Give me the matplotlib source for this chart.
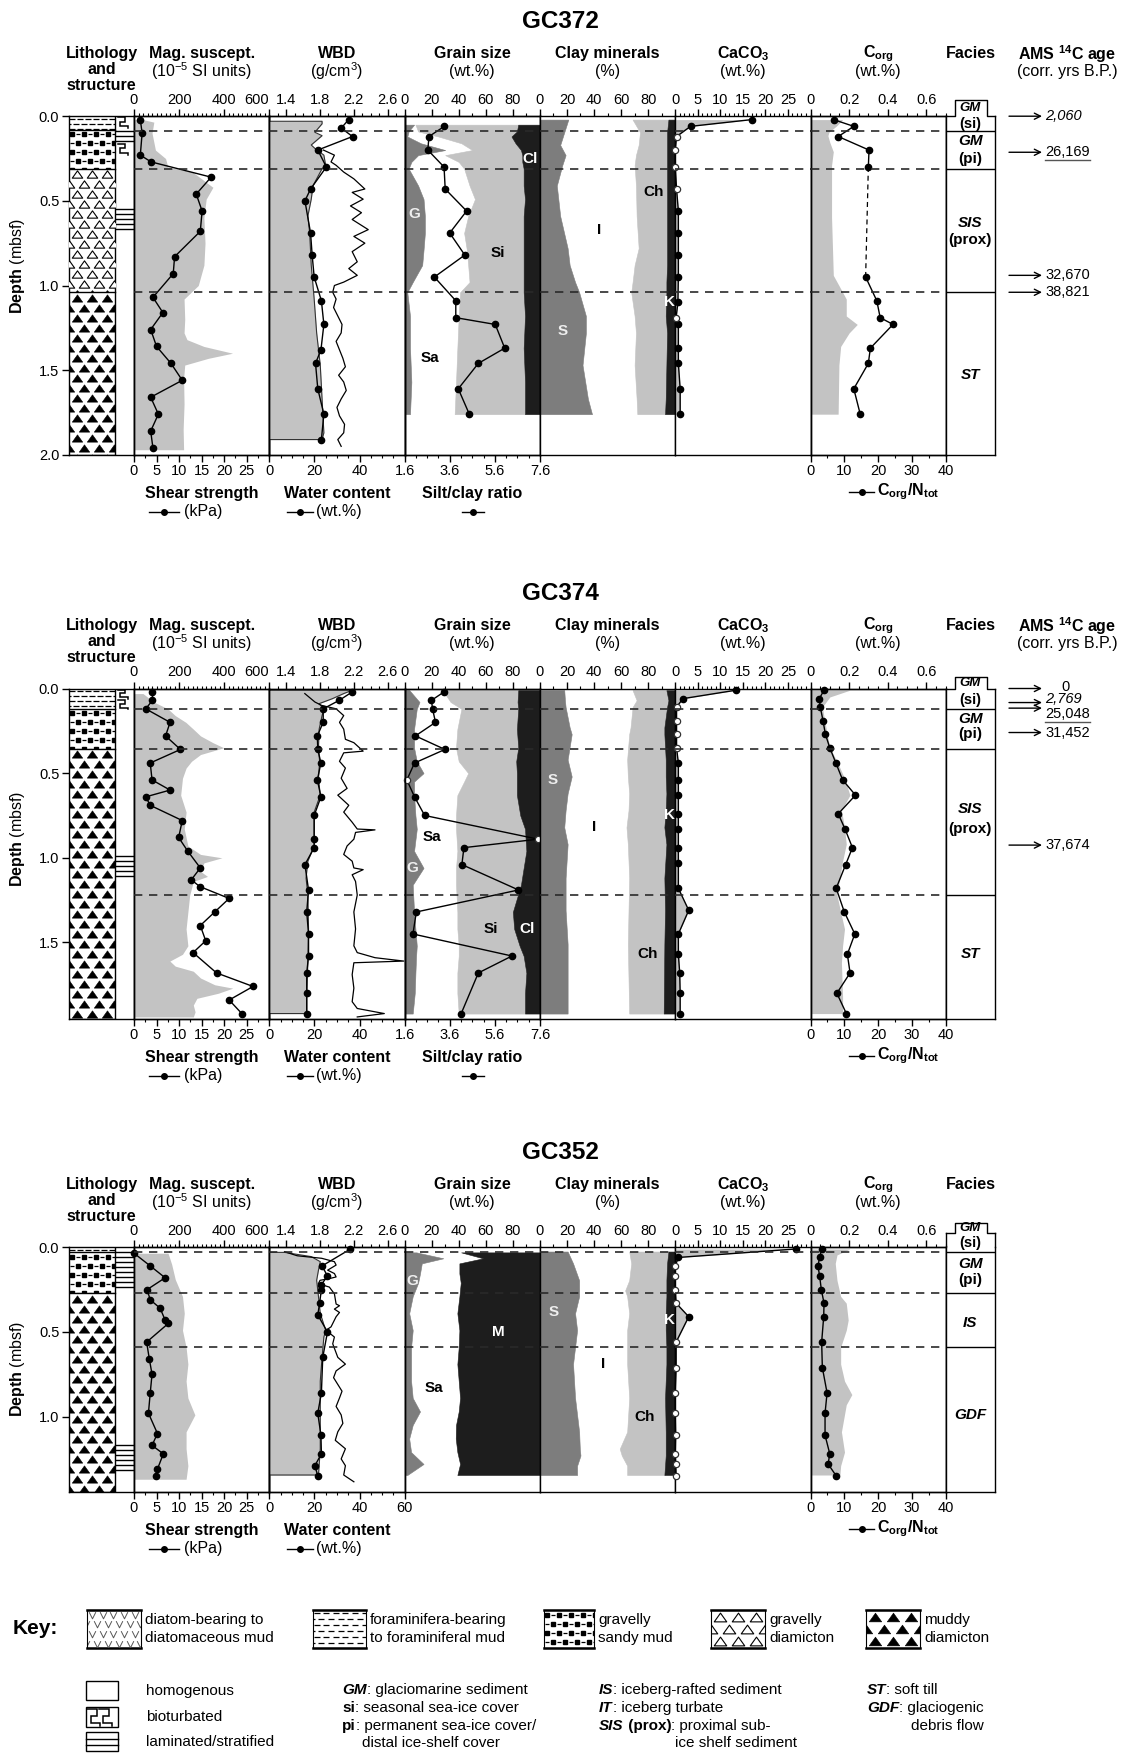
import numpy as np
import matplotlib
matplotlib.use("Agg")
import matplotlib.pyplot as plt
from matplotlib.patches import Rectangle
from matplotlib.path import Path

W, H = 1121, 1753
PXM = 169.3          # pixels per metre of core

plt.rcParams["font.family"] = "Liberation Sans"
plt.rcParams["mathtext.fontset"] = "custom"
plt.rcParams["mathtext.rm"] = "Liberation Sans"
plt.rcParams["mathtext.bf"] = "Liberation Sans:bold"
plt.rcParams["mathtext.it"] = "Liberation Sans:italic"
plt.rcParams["axes.linewidth"] = 1.0

LG, DG, BK = "#c3c3c3", "#7d7d7d", "#1d1d1d"

# ---------------------------------------------------------------- GC372
gc372_litho = [(0.00, 0.08, "foram"), (0.08, 0.31, "gsm"), (0.31, 1.04, "gdiam"), (1.04, 2.00, "mdiam")]
gc372_biot = [(0.00, 0.075), (0.155, 0.23)]
gc372_lamin = [(0.085, 0.155), (0.55, 0.67)]
gc372_ms_depth = [0.02, 0.035, 0.10, 0.20, 0.25, 0.30, 0.33, 0.42, 0.49, 0.60, 0.75, 0.88, 1.00,
                  1.08, 1.20, 1.28, 1.32, 1.36, 1.40, 1.43, 1.47, 1.55, 1.70, 1.85, 1.97]
gc372_ms = [40, 88, 80, 95, 140, 150, 260, 350, 320, 310, 315, 310, 285,
            222, 225, 222, 235, 310, 437, 330, 225, 220, 222, 218, 220]
gc372_ss_depth = [0.02, 0.10, 0.23, 0.27, 0.36, 0.46, 0.56, 0.68, 0.83, 0.93, 1.07, 1.16, 1.26,
                  1.36, 1.46, 1.56, 1.66, 1.76, 1.86, 1.96]
gc372_ss = [1.4, 1.8, 1.4, 3.8, 17.1, 13.8, 15.1, 14.7, 9.0, 8.7, 4.2, 6.4, 3.7,
            5.0, 8.2, 10.7, 3.7, 5.4, 3.7, 4.2]
gc372_wcf_depth = [0.03, 0.045, 0.095, 0.115, 0.17, 0.19, 0.23, 0.29, 0.31, 0.41, 0.49, 0.59, 0.69,
                   0.88, 1.08, 1.28, 1.47, 1.67, 1.87, 1.91]
gc372_wcf = [23.4, 23.4, 20.2, 23.4, 18.6, 20.2, 24.2, 25.0, 23.4, 19.4, 18.6, 17.1, 17.9,
             18.6, 19.9, 21.0, 22.6, 23.4, 24.2, 23.4]
gc372_wc_depth = [0.02, 0.07, 0.12, 0.20, 0.30, 0.43, 0.50, 0.69, 0.82, 0.95, 1.09, 1.23, 1.38,
                  1.46, 1.61, 1.76, 1.91]
gc372_wc = [35.2, 31.9, 36.9, 21.5, 25.3, 18.3, 15.8, 18.3, 19.0, 19.9, 23.1, 24.2, 22.9,
            20.5, 21.5, 24.2, 23.1]
gc372_wbd_depth = [0.20, 0.23, 0.27, 0.29, 0.33, 0.37, 0.43, 0.45, 0.49, 0.53, 0.57, 0.61, 0.67, 0.71,
                   0.75, 0.80, 0.86, 0.90, 0.94, 0.98, 1.00, 1.04, 1.08, 1.13, 1.18, 1.23, 1.28, 1.33,
                   1.38, 1.43, 1.48, 1.53, 1.57, 1.62, 1.67, 1.72, 1.77, 1.82, 1.87, 1.91, 1.95]
gc372_wbd = [1.84, 1.97, 1.93, 1.99, 2.08, 2.20, 2.33, 2.18, 2.31, 2.16, 2.29, 2.18, 2.37, 2.20,
             2.33, 2.18, 2.24, 2.14, 2.24, 2.08, 1.97, 1.95, 1.99, 1.96, 2.01, 2.06, 2.05, 1.99,
             2.03, 2.07, 2.10, 2.02, 2.08, 2.11, 2.05, 2.00, 2.03, 2.09, 2.08, 2.01, 2.05]
gc372_gs_depth = [0.05, 0.09, 0.12, 0.16, 0.20, 0.23, 0.27, 0.31, 0.41, 0.49, 0.59, 0.69, 0.79,
                  0.88, 0.98, 1.04, 1.18, 1.37, 1.57, 1.76]
gc372_gravel = [7, 3, 2, 12, 30, 10, 5, 3, 10, 14, 15, 15, 14, 13, 6, 2, 4, 4, 5, 4]
gc372_sand = [1, 7, 23, 30, 20, 20, 35, 41, 38, 38, 32, 29, 32, 34, 42, 39, 36, 35, 33, 33]
gc372_silt = [76, 73, 54, 40, 36, 57, 47, 44, 40, 37, 41, 44, 42, 41, 40, 47, 49, 49, 51, 52]
gc372_clay = [16, 17, 21, 18, 14, 13, 13, 12, 12, 11, 12, 12, 12, 12, 12, 12, 11, 12, 11, 11]
gc372_sc_depth = [0.06, 0.12, 0.20, 0.30, 0.43, 0.56, 0.69, 0.82, 0.95, 1.09, 1.19, 1.23, 1.37,
                  1.46, 1.61, 1.76]
gc372_sc = [3.36, 2.68, 2.63, 3.35, 3.40, 4.35, 3.60, 4.27, 2.92, 3.87, 3.87, 5.62, 6.04,
            4.87, 3.98, 4.47]
gc372_cm_depth = [0.02, 0.095, 0.17, 0.23, 0.29, 0.41, 0.59, 0.78, 0.88, 0.98, 1.04, 1.18, 1.28,
                  1.47, 1.67, 1.76]
gc372_smect = [21, 18, 15, 19, 16.5, 12.5, 15, 20.5, 22, 26, 29, 34, 34, 31.5, 35.5, 38.5]
gc372_illite = [47.5, 56, 58, 52, 53.5, 58.5, 56.5, 52.5, 48, 42.5, 38.5, 36, 37, 38.5, 36, 33.5]
gc372_chlor = [26.5, 20, 21, 23, 24, 23, 22.5, 21, 24, 25, 26, 23, 23, 23.5, 21.5, 20.5]
gc372_kaol = [5, 6, 6, 6, 6, 6, 6, 6, 6, 6.5, 6.5, 7, 6, 6.5, 7, 7.5]
gc372_ca_depth = [0.02, 0.06, 0.12, 0.20, 0.30, 0.43, 0.56, 0.69, 0.82, 0.95, 1.10, 1.19, 1.23,
                  1.37, 1.46, 1.61, 1.76]
gc372_caco3 = [17.0, 3.4, 0.3, 0.0, 0.0, 0.3, 0.7, 0.7, 0.7, 0.7, 0.6, 0.2, 0.7, 0.7, 0.7, 1.1, 1.1]
gc372_corg_depth = [0.02, 0.055, 0.095, 0.115, 0.155, 0.21, 0.29, 0.60, 0.94, 1.00, 1.04, 1.08,
                    1.18, 1.23, 1.28, 1.36, 1.47, 1.76]
gc372_corg = [0.166, 0.137, 0.095, 0.090, 0.100, 0.118, 0.109, 0.109, 0.118, 0.147, 0.166, 0.185,
              0.185, 0.242, 0.200, 0.156, 0.147, 0.143]
gc372_cn_depth = [0.02, 0.06, 0.12, 0.20, 0.30, 0.95, 1.09, 1.19, 1.23, 1.37, 1.46, 1.61, 1.76]
gc372_cn = [6.8, 12.8, 8.2, 17.3, 17.1, 16.3, 19.6, 20.6, 24.4, 17.7, 17.1, 12.8, 14.7]
gc372_facies_bounds = [0.085, 0.31, 1.04]
gc372_facies = [("GM", -0.047, True, 9.5), ("(si)", 0.045, False, 10.5), ("GM", 0.145, True, 11),
                ("(pi)", 0.25, False, 11), ("SIS", 0.63, True, 11), ("(prox)", 0.73, False, 11),
                ("ST", 1.53, True, 11)]
gc372_ages = [(0.0, 0.0, "2,060", "italic"), (0.213, 0.213, "26,169", "underline"),
              (0.94, 0.94, "32,670", ""), (1.04, 1.04, "38,821", "")]
gc372_gs_labels = [("G", 7, 0.58, "#eeeeee"), ("Si", 69, 0.81, "k"), ("Sa", 19, 1.43, "k"), ("Cl", 93, 0.25, "w")]
gc372_cm_labels = [("Ch", 84, 0.445, "k"), ("I", 44, 0.67, "k"), ("S", 16.5, 1.27, "#eeeeee"), ("K", 96, 1.10, "w")]

# ---------------------------------------------------------------- GC374
gc374_litho = [(0.00, 0.12, "foram"), (0.12, 0.355, "gsm"), (0.355, 1.95, "mdiam")]
gc374_biot = [(0.00, 0.125)]
gc374_lamin = [(0.99, 1.12)]
gc374_ms_depth = [0.03, 0.08, 0.12, 0.16, 0.20, 0.24, 0.28, 0.32, 0.35, 0.39, 0.43, 0.47, 0.53,
                  0.63, 0.73, 0.83, 0.93, 0.98, 1.00, 1.03, 1.08, 1.11, 1.14, 1.22, 1.32, 1.42,
                  1.52, 1.57, 1.61, 1.64, 1.67, 1.71, 1.75, 1.77, 1.80, 1.83, 1.87, 1.91, 1.94]
gc374_ms = [40, 88, 150, 183, 230, 263, 295, 350, 398, 295, 255, 231, 215,
            207, 231, 223, 239, 295, 390, 310, 295, 326, 263, 247, 239, 231,
            239, 215, 159, 183, 263, 295, 358, 438, 374, 279, 263, 271, 263]
gc374_ss_depth = [0.02, 0.07, 0.12, 0.20, 0.28, 0.36, 0.44, 0.54, 0.60, 0.64, 0.69, 0.78, 0.88,
                  0.96, 1.06, 1.13, 1.17, 1.24, 1.32, 1.40, 1.49, 1.56, 1.68, 1.76, 1.84, 1.92]
gc374_ss = [4.1, 4.1, 2.6, 8.0, 7.0, 10.3, 3.6, 4.0, 8.0, 2.6, 3.6, 10.7, 9.9,
            11.9, 14.7, 12.7, 14.6, 21.1, 17.9, 14.7, 15.9, 13.1, 18.3, 26.4, 21.1, 23.9]
gc374_wcf_depth = [0.01, 0.03, 0.06, 0.09, 0.12, 0.16, 0.24, 0.35, 0.43, 0.53, 0.63, 0.73, 0.83,
                   0.93, 1.02, 1.12, 1.22, 1.42, 1.61, 1.81, 1.92]
gc374_wcf = [36.8, 33.0, 28.0, 22.0, 24.2, 23.4, 22.1, 21.8, 22.3, 21.8, 22.6, 19.9, 19.9,
             19.9, 17.1, 16.3, 17.1, 17.4, 17.1, 16.6, 16.6]
gc374_wc_depth = [0.02, 0.07, 0.12, 0.20, 0.28, 0.36, 0.44, 0.54, 0.64, 0.75, 0.89, 0.94, 1.04,
                  1.19, 1.32, 1.45, 1.58, 1.68, 1.80, 1.92]
gc374_wc = [36.8, 31.0, 23.9, 23.9, 21.3, 21.5, 22.9, 21.3, 22.9, 19.9, 19.9, 19.9, 15.8,
            17.4, 16.6, 17.4, 17.4, 16.6, 16.6, 16.6]
gc374_wbd_depth = [0.03, 0.08, 0.10, 0.12, 0.16, 0.20, 0.24, 0.30, 0.32, 0.37, 0.38, 0.43, 0.47,
                   0.53, 0.59, 0.63, 0.69, 0.73, 0.79, 0.83, 0.835, 0.85, 0.89, 0.93, 0.98, 1.02,
                   1.06, 1.07, 1.10, 1.14, 1.22, 1.32, 1.42, 1.52, 1.56, 1.59, 1.61, 1.62, 1.69,
                   1.77, 1.85, 1.89, 1.92, 1.94]
gc374_wbd = [1.62, 1.74, 1.82, 1.99, 2.08, 2.03, 2.08, 2.10, 2.20, 2.31, 2.08, 2.03, 2.10,
             2.05, 2.12, 2.01, 2.14, 2.08, 2.18, 2.24, 2.45, 2.22, 2.20, 2.12, 2.08, 2.18,
             2.20, 2.31, 2.18, 2.22, 2.24, 2.20, 2.22, 2.20, 2.24, 2.45, 2.79, 2.20, 2.18,
             2.20, 2.18, 2.24, 2.56, 2.24]
gc374_gs_depth = [0.01, 0.08, 0.12, 0.24, 0.35, 0.43, 0.50, 0.55, 0.63, 0.75, 0.83, 0.96, 1.06,
                  1.16, 1.24, 1.32, 1.42, 1.52, 1.58, 1.68, 1.80, 1.92]
gc374_gravel = [3.5, 11, 9, 7, 7, 9, 14, 7, 7, 8, 9, 7, 14, 6, 6.5, 7, 8, 9, 8.5, 8, 7.5, 6]
gc374_sand = [24.5, 23, 33, 32, 31, 31, 33, 37, 32, 30, 29, 32, 24, 32, 32, 32, 31, 31, 31.5, 31, 31.5, 34]
gc374_silt = [56, 49.5, 42, 44, 46, 42.5, 36, 39, 44, 47.5, 51, 51, 50, 48, 44.5, 41, 42, 45, 48, 51, 50, 49]
gc374_clay = [16, 16.5, 16, 17, 16, 17.5, 17, 17, 17, 14.5, 11, 10, 12, 14, 17, 20, 19, 15, 12, 10, 11, 11]
gc374_sc_depth = [0.02, 0.07, 0.12, 0.20, 0.28, 0.36, 0.44, 0.54, 0.64, 0.75, 0.89, 0.94, 1.04,
                  1.19, 1.32, 1.45, 1.58, 1.68, 1.92]
gc374_sc = [3.35, 2.79, 2.84, 2.97, 2.08, 3.39, 2.04, 1.70, 2.04, 2.49, 7.52, 4.23, 4.14,
            6.65, 2.12, 1.97, 6.36, 4.87, 4.11]
gc374_cm_depth = [0.01, 0.07, 0.11, 0.23, 0.27, 0.42, 0.52, 0.62, 0.72, 0.82, 0.92, 1.12, 1.31, 1.51, 1.92]
gc374_smect = [18, 18.5, 19, 22, 23.5, 20.5, 23.5, 20.5, 19, 18, 20.5, 19, 19, 20.5, 20.5]
gc374_illite = [50.5, 53, 49.5, 45, 42.5, 44, 41.5, 45.5, 46.5, 46, 44.5, 47, 46.5, 44.5, 45.5]
gc374_chlor = [25, 23.5, 25.5, 25, 26, 28.5, 28, 27.5, 27.5, 28, 28.5, 26, 27, 27, 25.5]
gc374_kaol = [6.5, 5, 6, 8, 8, 7, 7, 6.5, 7, 8, 6.5, 8, 7.5, 8, 8.5]
gc374_ca_depth = [0.01, 0.06, 0.11, 0.19, 0.27, 0.35, 0.44, 0.54, 0.63, 0.74, 0.83, 0.94, 1.03,
                  1.18, 1.31, 1.45, 1.57, 1.68, 1.80, 1.92]
gc374_caco3 = [13.5, 1.7, 0.3, 0.3, 0.3, 0.3, 0.7, 0.7, 0.7, 0.7, 0.7, 0.7, 0.7, 0.7, 3.0, 0.7, 0.7,
               1.0, 1.1, 1.1]
gc374_corg_depth = [0.01, 0.05, 0.11, 0.23, 0.35, 0.43, 0.53, 0.63, 0.72, 0.82, 0.92, 1.02, 1.22,
                    1.32, 1.42, 1.52, 1.62, 1.82, 1.92]
gc374_corg = [0.204, 0.100, 0.061, 0.080, 0.100, 0.137, 0.176, 0.204, 0.160, 0.176, 0.185, 0.166,
              0.137, 0.156, 0.176, 0.166, 0.160, 0.166, 0.166]
gc374_cn_depth = [0.01, 0.06, 0.11, 0.19, 0.27, 0.35, 0.44, 0.54, 0.63, 0.74, 0.83, 0.94, 1.04,
                  1.18, 1.32, 1.45, 1.57, 1.68, 1.80, 1.92]
gc374_cn = [4.0, 2.6, 2.9, 3.7, 4.4, 5.7, 7.5, 9.5, 13.3, 8.2, 10.2, 12.4, 10.4,
            7.6, 10.0, 13.1, 10.9, 11.7, 7.8, 10.6]
gc374_facies_bounds = [0.12, 0.36, 1.22]
gc374_facies = [("GM", -0.03, True, 9.5), ("(si)", 0.068, False, 10.5), ("GM", 0.18, True, 11),
                ("(pi)", 0.27, False, 11), ("SIS", 0.71, True, 11), ("(prox)", 0.83, False, 11),
                ("ST", 1.57, True, 11)]
gc374_ages = [(0.0, -0.01, "0", "center"), (0.083, 0.063, "2,769", "italic"),
              (0.116, 0.148, "25,048", "underline"), (0.26, 0.26, "31,452", ""),
              (0.925, 0.925, "37,674", "")]
gc374_gs_labels = [("G", 6, 1.06, "#eeeeee"), ("Sa", 20.5, 0.88, "k"), ("Si", 63.5, 1.42, "k"), ("Cl", 90.5, 1.42, "w")]
gc374_cm_labels = [("S", 9.6, 0.54, "#eeeeee"), ("I", 40, 0.82, "k"), ("K", 95.6, 0.75, "w"), ("Ch", 79.7, 1.57, "k")]

# ---------------------------------------------------------------- GC352
gc352_litho = [(0.00, 0.03, "foram"), (0.03, 0.27, "gsm"), (0.27, 1.445, "mdiam")]
gc352_biot = []
gc352_lamin = [(0.03, 0.26), (1.17, 1.33)]
gc352_ms_depth = [0.035, 0.10, 0.19, 0.29, 0.39, 0.49, 0.59, 0.69, 0.79, 0.89, 0.99, 1.09, 1.19, 1.29, 1.37]
gc352_ms = [151, 167, 183, 215, 223, 215, 231, 239, 231, 239, 270, 231, 231, 239, 231]
gc352_ss_depth = [0.035, 0.11, 0.18, 0.25, 0.31, 0.36, 0.43, 0.45, 0.56, 0.66, 0.75, 0.86, 0.98,
                  1.10, 1.17, 1.22, 1.31, 1.35]
gc352_ss = [0.0, 3.6, 6.9, 2.9, 3.6, 5.8, 6.9, 7.6, 2.8, 3.4, 4.0, 3.6, 3.2, 5.2, 4.0, 6.5, 5.2, 4.8]
gc352_wcf_depth = [0.03, 0.055, 0.085, 0.135, 0.195, 0.29, 0.39, 0.49, 0.53, 0.65, 0.79, 0.99, 1.19, 1.29, 1.345]
gc352_wcf = [6.8, 18.6, 22.6, 21.8, 21.0, 21.8, 22.6, 25.0, 24.2, 23.4, 22.6, 22.6, 22.6, 22.1, 21.8]
gc352_wc_depth = [0.01, 0.11, 0.17, 0.22, 0.25, 0.33, 0.40, 0.50, 0.65, 0.86, 0.98, 1.11, 1.22, 1.29, 1.35]
gc352_wc = [36.0, 23.4, 25.8, 23.1, 23.1, 22.3, 21.5, 25.8, 23.7, 23.1, 21.5, 22.9, 23.1, 20.2, 21.5]
gc352_wbd_depth = [0.026, 0.05, 0.065, 0.085, 0.105, 0.135, 0.155, 0.175, 0.185, 0.195, 0.215, 0.235,
                   0.275, 0.335, 0.345, 0.365, 0.385, 0.41, 0.47, 0.49, 0.53, 0.57, 0.65, 0.69, 0.73,
                   0.77, 0.81, 0.85, 0.89, 0.94, 0.99, 1.04, 1.09, 1.14, 1.19, 1.25, 1.29, 1.345, 1.385]
gc352_wbd = [1.38, 1.53, 1.82, 1.97, 1.99, 1.89, 1.97, 1.99, 1.91, 1.80, 1.78, 1.91,
             1.97, 1.99, 2.03, 1.97, 2.03, 1.99, 1.93, 1.87, 1.97, 1.95, 2.01, 2.10, 1.99,
             1.96, 2.01, 2.06, 2.03, 1.99, 2.05, 2.07, 2.01, 1.98, 2.10, 2.05, 2.10, 2.08, 2.20]
gc352_gs_depth = [0.03, 0.065, 0.095, 0.155, 0.21, 0.29, 0.39, 0.49, 0.59, 0.69, 0.79, 0.89, 0.97,
                  1.05, 1.13, 1.21, 1.28, 1.345]
gc352_gravel = [8.7, 28.6, 12.7, 11.4, 10, 6, 3.4, 6, 4.8, 4.8, 4.8, 6, 11.4, 6, 3.4, 4.8, 14, 2]
gc352_sand = [33.1, 29.4, 27.8, 29.1, 31.5, 34.5, 35.6, 34.5, 35.2, 34.2, 35.2, 35, 28.6, 32, 34.4, 34.2, 27, 37]
gc352_mud = [58.2, 42, 59.5, 59.5, 58.5, 59.5, 61, 59.5, 60, 61, 60, 59, 60, 62, 62.2, 61, 59, 61]
gc352_cm_depth = [0.025, 0.095, 0.195, 0.255, 0.29, 0.39, 0.49, 0.59, 0.69, 0.89, 1.09, 1.19, 1.23, 1.29, 1.345]
gc352_smect = [20.5, 24.5, 29, 29, 29, 26, 27.5, 26, 24.5, 26, 29, 29.5, 30, 27.5, 27.5]
gc352_illite = [45.5, 43, 37, 34, 35.5, 40, 37, 38.5, 40, 40, 35.5, 29.5, 30.5, 37, 37]
gc352_chlor = [29, 26.5, 27.5, 30.5, 29, 27, 28.5, 29, 29, 26.5, 28.5, 34, 32.5, 28, 27.5]
gc352_kaol = [5, 6, 6.5, 6.5, 6.5, 7, 7, 6.5, 6.5, 7.5, 7, 7, 7, 7.5, 8]
gc352_ca_depth = [0.01, 0.06, 0.11, 0.17, 0.25, 0.33, 0.41, 0.56, 0.71, 0.86, 0.98, 1.11, 1.22, 1.28, 1.35]
gc352_caco3 = [26.7, 0.7, 0.0, 0.0, 0.0, 0.2, 3.0, 0.2, 0.2, 0.0, 0.0, 0.1, 0.0, 0.1, 0.2]
gc352_corg_depth = [0.01, 0.045, 0.095, 0.195, 0.29, 0.33, 0.43, 0.49, 0.59, 0.69, 0.79, 0.87, 0.93,
                    1.09, 1.21, 1.29, 1.345]
gc352_corg = [0.204, 0.137, 0.128, 0.137, 0.156, 0.185, 0.195, 0.185, 0.156, 0.156, 0.176, 0.214,
              0.185, 0.160, 0.176, 0.156, 0.152]
gc352_cn_depth = [0.01, 0.06, 0.11, 0.17, 0.25, 0.33, 0.41, 0.56, 0.71, 0.86, 0.98, 1.11, 1.22, 1.28, 1.35]
gc352_cn = [3.3, 2.7, 2.2, 2.7, 3.2, 4.0, 3.9, 3.3, 3.5, 4.9, 4.3, 4.3, 5.7, 5.2, 7.6]
gc352_facies_bounds = [0.03, 0.27, 0.59]
gc352_facies = [("GM", -0.113, True, 9.5), ("(si)", -0.025, False, 10.5), ("GM", 0.10, True, 11),
                ("(pi)", 0.195, False, 11), ("IS", 0.45, True, 11), ("GDF", 0.99, True, 11)]
gc352_gs_labels = [("G", 6, 0.20, "#eeeeee"), ("Sa", 22, 0.83, "k"), ("M", 69.6, 0.50, "w")]
gc352_cm_labels = [("S", 10.4, 0.38, "#eeeeee"), ("I", 47, 0.69, "k"), ("K", 95.6, 0.43, "w"), ("Ch", 77.7, 1.0, "k")]

cores = [
    dict(name="GC372", top=116.2, length=2.0, depth_lab=150,
         litho=gc372_litho, biot=gc372_biot, lamin=gc372_lamin,
         ms=(gc372_ms_depth, gc372_ms), ss=(gc372_ss_depth, gc372_ss),
         wcf=(gc372_wcf_depth, gc372_wcf), wc=(gc372_wc_depth, gc372_wc), wbd=(gc372_wbd_depth, gc372_wbd),
         gs=(gc372_gs_depth, [gc372_gravel, gc372_sand, gc372_silt, gc372_clay]),
         gs_colors=[DG, "white", LG, BK], gs_labels=gc372_gs_labels,
         sc=(gc372_sc_depth, gc372_sc),
         cm=(gc372_cm_depth, [gc372_smect, gc372_illite, gc372_chlor, gc372_kaol]), cm_labels=gc372_cm_labels,
         ca=(gc372_ca_depth, gc372_caco3), corg=(gc372_corg_depth, gc372_corg),
         cn=(gc372_cn_depth, gc372_cn), cn_gap=4,
         bounds=gc372_facies_bounds, facies=gc372_facies, box_top=0.0, tab_top=-0.093, ages=gc372_ages),
    dict(name="GC374", top=688.5, length=1.95, depth_lab=150,
         litho=gc374_litho, biot=gc374_biot, lamin=gc374_lamin,
         ms=(gc374_ms_depth, gc374_ms), ss=(gc374_ss_depth, gc374_ss),
         wcf=(gc374_wcf_depth, gc374_wcf), wc=(gc374_wc_depth, gc374_wc), wbd=(gc374_wbd_depth, gc374_wbd),
         gs=(gc374_gs_depth, [gc374_gravel, gc374_sand, gc374_silt, gc374_clay]),
         gs_colors=[DG, "white", LG, BK], gs_labels=gc374_gs_labels,
         sc=(gc374_sc_depth, gc374_sc),
         cm=(gc374_cm_depth, [gc374_smect, gc374_illite, gc374_chlor, gc374_kaol]), cm_labels=gc374_cm_labels,
         ca=(gc374_ca_depth, gc374_caco3), corg=(gc374_corg_depth, gc374_corg),
         cn=(gc374_cn_depth, gc374_cn), cn_gap=None,
         bounds=gc374_facies_bounds, facies=gc374_facies, box_top=0.0, tab_top=-0.065, ages=gc374_ages),
    dict(name="GC352", top=1247.3, length=1.445, depth_lab=122,
         litho=gc352_litho, biot=gc352_biot, lamin=gc352_lamin,
         ms=(gc352_ms_depth, gc352_ms), ss=(gc352_ss_depth, gc352_ss),
         wcf=(gc352_wcf_depth, gc352_wcf), wc=(gc352_wc_depth, gc352_wc), wbd=(gc352_wbd_depth, gc352_wbd),
         gs=(gc352_gs_depth, [gc352_gravel, gc352_sand, gc352_mud]),
         gs_colors=[DG, "white", BK], gs_labels=gc352_gs_labels,
         sc=None,
         cm=(gc352_cm_depth, [gc352_smect, gc352_illite, gc352_chlor, gc352_kaol]), cm_labels=gc352_cm_labels,
         ca=(gc352_ca_depth, gc352_caco3), corg=(gc352_corg_depth, gc352_corg),
         cn=(gc352_cn_depth, gc352_cn), cn_gap=None,
         bounds=gc352_facies_bounds, facies=gc352_facies, box_top=-0.083, tab_top=-0.143, ages=None),
]

# column edges in pixels
XC = [134.0, 269.3, 404.6, 539.9, 675.2, 810.5, 945.8]
FAC_R = 995.0
LITHO_L = 69.0

fig = plt.figure(figsize=(W / 100, H / 100), dpi=100)
ov = fig.add_axes([0, 0, 1, 1])
ov.set_xlim(0, W)
ov.set_ylim(H, 0)
ov.axis("off")
ov.set_zorder(20)
renderer = fig.canvas.get_renderer()

VEE = Path([(-1, 1), (0, -1), (1, 1)], [Path.MOVETO, Path.LINETO, Path.LINETO])
TRI = Path([(-1, -0.7), (0, 0.7), (1, -0.7), (-1, -0.7)],
           [Path.MOVETO, Path.LINETO, Path.LINETO, Path.CLOSEPOLY])


def px_rect(x0, y0, x1, y1):
    return [x0 / W, 1 - y1 / H, (x1 - x0) / W, (y1 - y0) / H]


def pattern(ax, kind, x0, x1, y0, y1, sx, sy, k=1.0):
    """Fill a rectangle with a lithology symbol; sx, sy = data units per pixel."""
    clip = Rectangle((x0, y0), x1 - x0, y1 - y0, transform=ax.transData)
    wpx, hpx = (x1 - x0) / sx, (y1 - y0) / sy

    def grid(dx, dy, ox, oy):
        xs, ys = [], []
        for i, r in enumerate(np.arange(oy, hpx + dy, dy)):
            off = ox + (dx / 2 if i % 2 else 0)
            cols = np.arange(off - dx, wpx + dx, dx)
            xs.extend(x0 + cols * sx)
            ys.extend([y0 + r * sy] * len(cols))
        return np.array(xs), np.array(ys)

    def put(xs, ys, **kw):
        ln, = ax.plot(xs, ys, ls="none", zorder=3, **kw)
        ln.set_clip_path(clip)

    if kind in ("mdiam", "gdiam"):
        xs, ys = grid(15 * k, 10 * k, 7.5 * k, 5.5 * k)
        if kind == "mdiam":
            put(xs, ys, marker=TRI, ms=7.5 * k, mfc="k", mec="k", mew=0.4)
        else:
            put(xs, ys, marker=TRI, ms=7.5 * k, mfc="white", mec="k", mew=0.8)
    elif kind == "gsm":
        xs, ys = grid(12 * k, 9 * k, 3 * k, 4.5 * k)
        put(xs, ys, marker="s", ms=3.0 * k, mfc="k", mec="k")
        put(xs + 6 * k * sx, ys, marker="_", ms=3.5 * k, mew=0.9, color="k")
    elif kind == "foram":
        xs, ys = grid(8 * k, 5 * k, 3 * k, 2.5 * k)
        put(xs, ys, marker="_", ms=4.0 * k, mew=0.9, color="k")
    elif kind == "diatom":
        xs, ys = grid(9 * k, 8 * k, 4 * k, 4 * k)
        put(xs, ys, marker=VEE, ms=4.0 * k, mfc="none", mec="#555555", mew=0.7)


def biot_symbol(ax, x0, y0, hx, hy):
    pts = [(0.10, 0.10), (0.55, 0.10), (0.55, 0.45), (0.25, 0.45), (0.25, 0.80), (0.70, 0.80), (0.70, 0.95)]
    ax.plot([x0 + p[0] * hx for p in pts], [y0 + p[1] * hy for p in pts], color="k", lw=1.1,
            solid_joinstyle="miter")


def set_ticks(ax, lim, major, labels, minor, side):
    ax.set_xlim(lim)
    ax.set_xticks(major)
    ax.set_xticklabels(labels)
    ax.set_xticks(minor, minor=True)
    top = side == "top"
    ax.tick_params(axis="x", which="both", direction="out", top=top, bottom=not top,
                   labeltop=top, labelbottom=not top)
    ax.tick_params(axis="x", which="major", length=5, width=1, pad=1.5, labelsize=10.5)
    ax.tick_params(axis="x", which="minor", length=2.5, width=0.8)


def data_col(i, T, B, L, top_spec, bot_spec=None):
    ax = fig.add_axes(px_rect(XC[i], T, XC[i + 1], B))
    ax.set_ylim(L, 0)
    axb = ax.twiny() if bot_spec else None
    set_ticks(ax, *top_spec, side="top")
    if axb is not None:
        set_ticks(axb, *bot_spec, side="bottom")
    ax.set_yticks([])
    ax.tick_params(axis="y", left=False, right=False)
    return ax, axb


def dotted(ax, x, d, lim=None, open_frac=0.0):
    x, d = np.asarray(x, float), np.asarray(d, float)
    ax.plot(x, d, color="k", lw=1.0, clip_on=False, zorder=4)
    mask = np.zeros(len(x), bool)
    if lim is not None and open_frac > 0:
        f = (x - lim[0]) / (lim[1] - lim[0])
        mask = (f < open_frac) | (f > 1 - open_frac)
    ax.plot(x[~mask], d[~mask], "o", ms=4.5, mfc="k", mec="k", clip_on=False, zorder=5)
    ax.plot(x[mask], d[mask], "o", ms=4.5, mfc="white", mec="#333333", mew=0.9, clip_on=False, zorder=5)


def stacked(ax, d, parts, colors):
    cum = np.zeros(len(d))
    for p, c in zip(parts, colors):
        nxt = cum + np.asarray(p, float)
        if c != "white":
            ax.fill_betweenx(d, cum, nxt, color=c, lw=0.4, zorder=2)
        cum = nxt


def dashed(ax, bounds):
    for b in bounds:
        ax.axhline(b, color="#2a2a2a", lw=1.2, ls=(0, (5, 4)), zorder=6)


def glyph(x0, x1, y):
    ov.plot([x0, x1], [y, y], color="k", lw=1.0)
    ov.plot([(x0 + x1) / 2], [y], "o", color="k", ms=4)


def rich(x, y, pieces, size=11):
    for s, kw in pieces:
        t = ov.text(x, y, s, fontsize=size, va="center", ha="left", **kw)
        x += t.get_window_extent(renderer).width


def draw_core(c):
    T, L = c["top"], c["length"]
    B = T + L * PXM

    # ---- lithology and structure
    al = fig.add_axes(px_rect(LITHO_L, T, XC[0], B))
    al.set_xlim(0, 65)
    al.set_ylim(L, 0)
    for d0, d1, kind in c["litho"]:
        pattern(al, kind, 0, 46, d0, d1, 1.0, 1.0 / PXM)
        al.plot([0, 46], [d1, d1], color="k", lw=1.0, zorder=4)
    al.axvline(46, color="k", lw=1.0)
    for d0, d1 in c["lamin"]:
        al.hlines(np.arange(d0, d1 + 1e-6, 5.0 / PXM), 46, 65, color="k", lw=1.0)
    for d0, d1 in c["biot"]:
        n = max(1, int(round((d1 - d0) * PXM / 12)))
        step = (d1 - d0) / n
        for j in range(n):
            biot_symbol(al, 47, d0 + j * step, 17, step)
    al.set_xticks([])
    ticks = np.arange(0, L + 0.001, 0.5)
    al.set_yticks(ticks)
    al.set_yticklabels(["%.1f" % t for t in ticks])
    al.tick_params(axis="y", direction="out", length=5, width=1, pad=2, labelsize=10.5)

    # ---- magnetic susceptibility / shear strength
    ax, axb = data_col(0, T, B, L,
                       ((0, 600), [0, 200, 400, 600], ["0", "200", "400", "600"], np.arange(0, 601, 20)),
                       ((0, 30), [0, 5, 10, 15, 20, 25], ["0", "5", "10", "15", "20", "25"],
                        np.arange(0, 31, 2.5)))
    ax.get_xticklabels()[-1].set_ha("right")
    ax.fill_betweenx(c["ms"][0], 0, c["ms"][1], color=LG, lw=0)
    dotted(axb, c["ss"][1], c["ss"][0])
    dashed(axb, c["bounds"])

    # ---- wet bulk density / water content
    wmaj = [0, 20, 40, 60] if c["sc"] is None else [0, 20, 40]
    ax, axb = data_col(1, T, B, L,
                       ((1.2, 2.8), [1.4, 1.8, 2.2, 2.6], ["1.4", "1.8", "2.2", "2.6"],
                        np.arange(1.2, 2.81, 0.1)),
                       ((0, 60), wmaj, [str(v) for v in wmaj], np.arange(0, 61, 5)))
    d, v = np.asarray(c["wcf"][0]), np.asarray(c["wcf"][1])
    axb.fill_betweenx(d, 0, v, color=LG, lw=0)
    axb.plot(np.r_[0, v, 0], np.r_[d[0], d, d[-1]], color="#333333", lw=0.8)
    dotted(axb, c["wc"][1], c["wc"][0])
    ax.plot(c["wbd"][1], c["wbd"][0], color="k", lw=0.9, zorder=3)
    ax.set_zorder(axb.get_zorder() + 1)
    ax.patch.set_visible(False)
    dashed(ax, c["bounds"])

    # ---- grain size / silt-clay ratio
    bot = None
    if c["sc"] is not None:
        bot = ((1.6, 7.6), [1.6, 3.6, 5.6, 7.6], ["1.6", "3.6", "5.6", "7.6"], np.arange(1.6, 7.61, 0.5))
    ax, axb = data_col(2, T, B, L,
                       ((0, 100), [0, 20, 40, 60, 80], ["0", "20", "40", "60", "80"], np.arange(0, 101, 10)),
                       bot)
    stacked(ax, c["gs"][0], c["gs"][1], c["gs_colors"])
    for s, x, y, col in c["gs_labels"]:
        ax.text(x, y, s, color=col, fontsize=11, weight="bold", ha="center", va="center", zorder=5)
    if axb is not None:
        dotted(axb, c["sc"][1], c["sc"][0], lim=(1.6, 7.6), open_frac=0.03)
        dashed(axb, c["bounds"])
    else:
        dashed(ax, c["bounds"])

    # ---- clay minerals
    ax, _ = data_col(3, T, B, L,
                     ((0, 100), [0, 20, 40, 60, 80], ["0", "20", "40", "60", "80"], np.arange(0, 101, 10)))
    stacked(ax, c["cm"][0], c["cm"][1], [DG, "white", LG, BK])
    for s, x, y, col in c["cm_labels"]:
        ax.text(x, y, s, color=col, fontsize=11, weight="bold", ha="center", va="center", zorder=5)
    dashed(ax, c["bounds"])

    # ---- carbonate
    ax, _ = data_col(4, T, B, L,
                     ((0, 30), [0, 5, 10, 15, 20, 25], ["0", "5", "10", "15", "20", "25"], np.arange(0, 31, 1)))
    ax.fill_betweenx(c["ca"][0], 0, c["ca"][1], color=LG, lw=0)
    dotted(ax, c["ca"][1], c["ca"][0], lim=(0, 30), open_frac=0.015)
    dashed(ax, c["bounds"])

    # ---- organic carbon / C/N
    ax, axb = data_col(5, T, B, L,
                       ((0, 0.7), [0, 0.2, 0.4, 0.6], ["0", "0.2", "0.4", "0.6"], np.arange(0, 0.701, 0.05)),
                       ((0, 40), [0, 10, 20, 30, 40], ["0", "10", "20", "30", "40"], np.arange(0, 41, 5)))
    ax.fill_betweenx(c["corg"][0], 0, c["corg"][1], color=LG, lw=0)
    cd, cv = np.asarray(c["cn"][0]), np.asarray(c["cn"][1])
    g = c["cn_gap"]
    if g is None:
        dotted(axb, cv, cd)
    else:
        dotted(axb, cv[:g + 1], cd[:g + 1])
        dotted(axb, cv[g + 1:], cd[g + 1:])
        axb.plot(cv[g:g + 2], cd[g:g + 2], color="k", lw=0.9, ls=(0, (4, 3)))
    dashed(axb, c["bounds"])

    # ---- facies column
    af = fig.add_axes(px_rect(XC[6], T, FAC_R, B))
    af.set_xlim(0, 1)
    af.set_ylim(L, 0)
    af.set_xticks([])
    af.set_yticks([])
    af.spines["top"].set_visible(False)
    bt, tt = c["box_top"], c["tab_top"]
    kw = dict(color="k", lw=1.0, clip_on=False)
    af.plot([0, 0.19, 0.19, 0.84, 0.84, 1], [bt, bt, tt, tt, bt, bt], **kw)
    if bt < 0:
        af.plot([0, 0], [bt, 0], **kw)
        af.plot([1, 1], [bt, 0], **kw)
    for b in c["bounds"]:
        af.plot([0, 1], [b, b], color="k", lw=1.0)
    for s, y, it, fs in c["facies"]:
        af.text(0.5, y, s, ha="center", va="center", fontsize=fs, weight="bold",
                style="italic" if it else "normal", clip_on=False)

    # ---- radiocarbon ages
    if c["ages"]:
        aa = fig.add_axes(px_rect(FAC_R, T, W, B))
        aa.set_xlim(FAC_R, W)
        aa.set_ylim(L, 0)
        aa.axis("off")
        for da, dt, s, st in c["ages"]:
            aa.annotate("", xy=(1042, da), xytext=(1009, da), annotation_clip=False,
                        arrowprops=dict(arrowstyle="->", lw=1.0, color="k", shrinkA=0, shrinkB=0,
                                        mutation_scale=11))
            if st == "center":
                aa.text(1066, dt, s, ha="center", va="center", fontsize=10.5, clip_on=False)
                continue
            t = aa.text(1045, dt, s, ha="left", va="center", fontsize=10.5,
                        style="italic" if st == "italic" else "normal", clip_on=False)
            if st == "underline":
                w = t.get_window_extent(renderer).width
                aa.plot([1045, 1045 + w], [dt + 8 / PXM, dt + 8 / PXM], color="#555555", lw=1.0,
                        clip_on=False)

    # ---- titles, headers, bottom labels
    cx = [(XC[i] + XC[i + 1]) / 2 for i in range(6)]
    ov.text(560, T - 95, c["name"], ha="center", va="center", fontsize=17.5, weight="bold")
    hb = dict(ha="center", va="center", fontsize=11.5, weight="bold")
    hn = dict(ha="center", va="center", fontsize=11.5)
    ov.text(101.5, T - 63, "Lithology", **hb)
    ov.text(101.5, T - 47, "and", **hb)
    ov.text(101.5, T - 31, "structure", **hb)
    heads = [("Mag. suscept.", r"(10$^{-5}$ SI units)"), ("WBD", r"(g/cm$^3$)"),
             ("Grain size", "(wt.%)"), ("Clay minerals", "(%)"),
             (r"CaCO$_\mathbf{3}$", "(wt.%)"), (r"C$_\mathbf{org}$", "(wt.%)")]
    for x, (h1, h2) in zip(cx, heads):
        ov.text(x, T - 63, h1, **hb)
        ov.text(x, T - 45, h2, **hn)
    ov.text((XC[6] + FAC_R) / 2, T - 63, "Facies", **hb)
    if c["ages"]:
        ov.text(1067, T - 62, r"AMS $^\mathbf{14}$C age", **hb)
        ov.text(1067, T - 45, "(corr. yrs B.P.)", **hn)

    ov.text(18, T + c["depth_lab"], r"$\mathbf{Depth}$ (mbsf)", rotation=90, ha="center",
            va="center", fontsize=11.5)

    ov.text(cx[0], B + 39, "Shear strength", **hb)
    glyph(149, 179, B + 57)
    ov.text(184, B + 57, "(kPa)", ha="left", va="center", fontsize=11.5)
    ov.text(cx[1], B + 39, "Water content", **hb)
    glyph(287, 313, B + 57)
    ov.text(316, B + 57, "(wt.%)", ha="left", va="center", fontsize=11.5)
    if c["sc"] is not None:
        ov.text(cx[2], B + 39, "Silt/clay ratio", **hb)
        glyph(462, 484, B + 57)
    glyph(849, 874, B + 37)
    ov.text(877, B + 37, r"C$_\mathbf{org}$/N$_\mathbf{tot}$", ha="left", va="center",
            fontsize=11.5, weight="bold")


for core in cores:
    draw_core(core)

# ---------------------------------------------------------------- key
ov.text(13, 1628, "Key:", fontsize=15, weight="bold", ha="left", va="center")
key_boxes = [(87, 141, "diatom", "diatom-bearing to", "diatomaceous mud"),
             (313, 366, "foram", "foraminifera-bearing", "to foraminiferal mud"),
             (544, 594, "gsm", "gravelly", "sandy mud"),
             (711, 765, "gdiam", "gravelly", "diamicton"),
             (866, 920, "mdiam", "muddy", "diamicton")]
ky0, ky1 = 1610, 1648
for x0, x1, kind, t1, t2 in key_boxes:
    pattern(ov, kind, x0, x1, ky0, ky1, 1.0, 1.0, k=1.0 if kind == "gsm" else 1.2)
    ov.add_patch(Rectangle((x0, ky0), x1 - x0, ky1 - ky0, fill=False, ec="k", lw=0.8, zorder=4))
    ov.plot([x0, x1], [ky0, ky0], color="k", lw=1.8)
    ov.plot([x0, x1], [ky1, ky1], color="k", lw=1.8)
    ov.text(x1 + 4, 1620, t1, fontsize=11, ha="left", va="center")
    ov.text(x1 + 4, 1638, t2, fontsize=11, ha="left", va="center")

ov.add_patch(Rectangle((86, 1681), 32, 19, fill=False, ec="k", lw=1.0))
ov.add_patch(Rectangle((86, 1707), 32, 20, fill=False, ec="k", lw=1.0))
biot_symbol(ov, 85, 1707, 22, 20)
biot_symbol(ov, 97, 1707, 22, 20)
ov.add_patch(Rectangle((86, 1732), 32, 19, fill=False, ec="k", lw=1.0))
ov.plot([86, 118], [1738.5, 1738.5], color="k", lw=1.0)
ov.plot([86, 118], [1745, 1745], color="k", lw=1.0)
ov.text(146, 1691, "homogenous", fontsize=11, va="center")
ov.text(146, 1717, "bioturbated", fontsize=11, va="center")
ov.text(146, 1742, "laminated/stratified", fontsize=11, va="center")

BI = dict(weight="bold", style="italic")
BO = dict(weight="bold")
NO = {}
rich(342, 1690, [("GM", BI), (": glaciomarine sediment", NO)])
rich(342, 1708, [("si", BO), (": seasonal sea-ice cover", NO)])
rich(342, 1726, [("pi", BO), (": permanent sea-ice cover/", NO)])
rich(362, 1743, [("distal ice-shelf cover", NO)])
rich(599, 1690, [("IS", BI), (": iceberg-rafted sediment", NO)])
rich(599, 1708, [("IT", BI), (": iceberg turbate", NO)])
rich(599, 1726, [("SIS", BI), (" (prox)", BO), (": proximal sub-", NO)])
rich(675, 1743, [("ice shelf sediment", NO)])
rich(867, 1690, [("ST", BI), (": soft till", NO)])
rich(867, 1708, [("GDF", BI), (": glaciogenic", NO)])
rich(911, 1726, [("debris flow", NO)])

fig.savefig("out.png", dpi=100)
